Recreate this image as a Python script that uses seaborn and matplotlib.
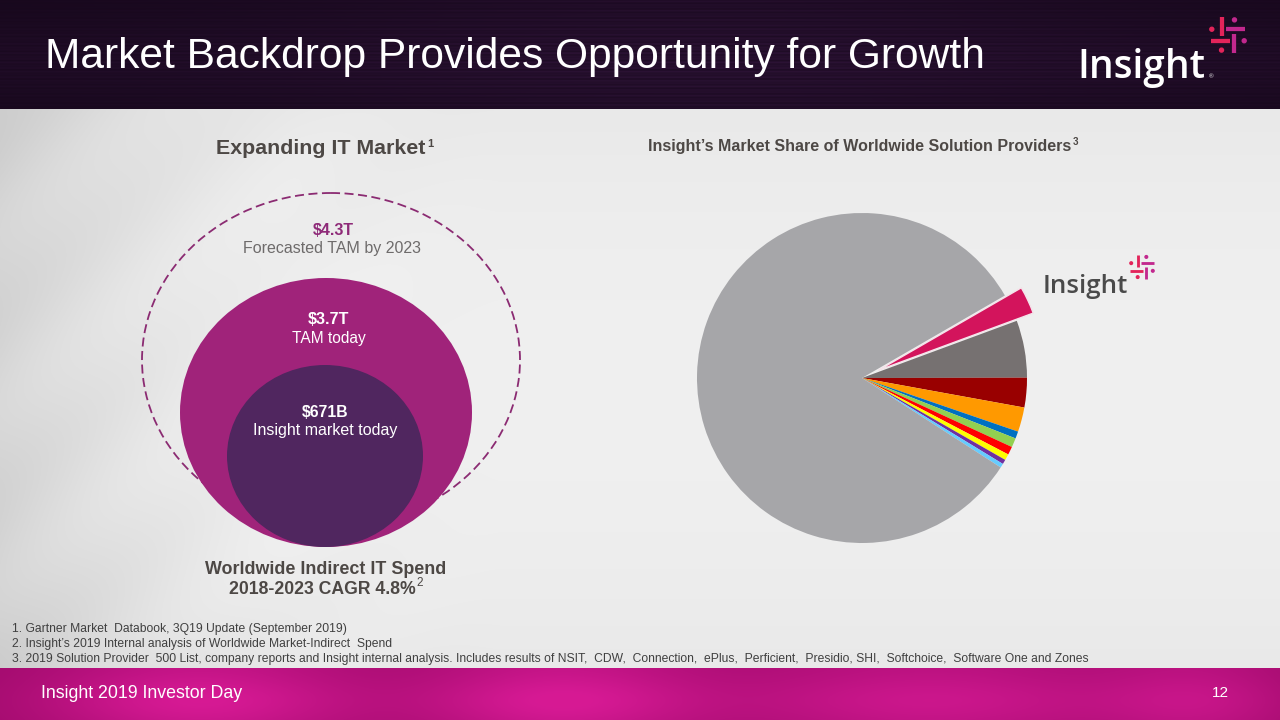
import numpy as np
import matplotlib
matplotlib.use("Agg")
import matplotlib.pyplot as plt
from matplotlib.patches import Ellipse, Circle
import seaborn as sns

# ---------------- data ----------------
title = "Market Backdrop Provides Opportunity for Growth"
left_title = "Expanding IT Market"
right_title = "Insight\u2019s Market Share of Worldwide Solution Providers"
market_values = ["$4.3T", "$3.7T", "$671B"]
market_captions = ["Forecasted TAM by 2023", "TAM today", "Insight market today"]
spend_lines = ["Worldwide Indirect IT Spend", "2018-2023 CAGR 4.8%"]

providers = ["Insight (NSIT)", "CDW", "SHI", "Software One", "Presidio",
             "Connection", "Zones", "ePlus", "Softchoice", "Perficient",
             "Other solution providers"]
share_pct = [2.7, 5.6, 2.9, 2.4, 0.7, 0.9, 0.8, 0.6, 0.45, 0.4, 82.55]
slice_colors = ["#D3145C", "#767171", "#990000", "#FF9900", "#0070C0",
                "#92D050", "#FF0000", "#FFFF00", "#7030A0", "#66CCFF",
                "#A6A6A9"]

footnotes = [
    "1. Gartner Market  Databook, 3Q19 Update (September 2019)",
    "2. Insight\u2019s 2019 Internal analysis of Worldwide Market-Indirect  Spend",
    "3. 2019 Solution Provider  500 List, company reports and Insight internal analysis. Includes results of NSIT,  CDW,  Connection,  ePlus,  Perficient,  Presidio, SHI,  Softchoice,  Software One and Zones",
]
footer_text = "Insight 2019 Investor Day"
page_no = "12"

# ---------------- setup ----------------
sns.set_theme(style="white")
plt.rcParams["font.family"] = ["Liberation Sans", "DejaVu Sans"]

W, H = 1280, 720
fig = plt.figure(figsize=(12.8, 7.2), dpi=100)
ax = fig.add_axes([0, 0, 1, 1])
ax.set_xlim(0, W)
ax.set_ylim(H, 0)
ax.axis("off")

# ---------------- background ----------------
HEAD, FOOT = 109, 668
yy, xx = np.mgrid[0:H, 0:W].astype(float)
img = np.zeros((H, W, 3))
b = 0.94 - 0.10 * np.clip((300 - xx) / 300, 0, 1) ** 1.5 - 0.03 * ((yy - 390) / 300) ** 2
b += 0.012 * np.sin((xx * 0.8 + yy) * 0.035) * np.clip((500 - xx) / 500, 0, 1)
img[:] = np.stack([b, b, b], axis=-1)
hy = yy[:HEAD]
hx = xx[:HEAD]
streak = 0.5 + 0.5 * np.sin(hy * 1.7) * np.sin(hy * 0.37 + 1.0)
glow = np.exp(-((hx - 700) / 450) ** 2) * 0.6 + np.exp(-((hy - 60) / 40) ** 2) * 0.4
base = np.array([0.09, 0.03, 0.11])
purple = np.array([0.30, 0.14, 0.36])
hdr = base + (purple - base) * (0.25 * glow * streak)[..., None] + (purple - base) * (0.15 * glow)[..., None]
img[:HEAD] = hdr
fy = yy[FOOT:]
fx = xx[FOOT:]
spots = (np.exp(-((fx - 200) / 160) ** 2) + np.exp(-((fx - 560) / 140) ** 2)
         + 0.8 * np.exp(-((fx - 930) / 200) ** 2) + 0.6 * np.exp(-((fx - 1200) / 100) ** 2))
spots = spots * (0.6 + 0.4 * np.exp(-((fy - 700) / 25) ** 2))
dark = np.array([0.62, 0.04, 0.42])
bright = np.array([0.84, 0.10, 0.58])
img[FOOT:] = dark + (bright - dark) * np.clip(spots, 0, 1)[..., None]
ax.imshow(np.clip(img, 0, 1), extent=(0, W, H, 0), aspect="auto", zorder=0)


def fit_text(x, y, s, width, size0, **kw):
    t = ax.text(x, y, s, fontsize=size0, **kw)
    r = fig.canvas.get_renderer()
    w = t.get_window_extent(r).width
    t.set_fontsize(size0 * width / w)
    return t


def sup(t, s, dy=-7, size=8, **kw):
    r = fig.canvas.get_renderer()
    bb = t.get_window_extent(r)
    x1 = bb.x1 + 1.5
    yb = t.get_position()[1]
    ax.text(x1, yb + dy, s, fontsize=size, va="baseline", ha="left", **kw)


# ---------------- header ----------------
fit_text(45, 68, title, 940, 32, color="white", va="baseline", ha="left")


def logo(x0, base, width, color, icon_cx, icon_cy, s, size0):
    fit_text(x0, base, "Insight", width, size0, color=color, va="baseline",
             ha="left", weight="semibold", family=["Open Sans", "DejaVu Sans"])
    red, pink = "#E3245A", "#C2288E"
    lw = s * 0.085
    kw = dict(lw=lw, solid_capstyle="butt", zorder=5)
    ax.plot([icon_cx - 0.18 * s] * 2, [icon_cy - 0.5 * s, icon_cy + 0.02 * s], color=red, **kw)
    ax.plot([icon_cx - 0.05 * s, icon_cx + 0.48 * s], [icon_cy - 0.16 * s] * 2, color=pink, **kw)
    ax.plot([icon_cx - 0.48 * s, icon_cx + 0.05 * s], [icon_cy + 0.16 * s] * 2, color=red, **kw)
    ax.plot([icon_cx + 0.18 * s] * 2, [icon_cy - 0.02 * s, icon_cy + 0.5 * s], color=pink, **kw)
    for (dx, dy, c) in [(-0.45, -0.16, red), (0.45, 0.16, pink), (-0.18, 0.42, red), (0.18, -0.42, pink)]:
        ax.add_patch(Circle((icon_cx + dx * s, icon_cy + dy * s), 0.055 * s, color=c, zorder=5))


logo(1077, 78, 128, "white", 1228, 35, 36, 34)
ax.text(1209, 78, "\u00ae", color="white", fontsize=4.5, va="baseline")

# ---------------- left: nested circles ----------------
ax.add_patch(Ellipse((331, 360), 378, 334, fill=False, ec="#8B2B72", lw=1.3,
                     ls=(0, (5, 2.5)), zorder=2))
ax.add_patch(Ellipse((326, 412.5), 292, 269, fc="#A0237A", ec="none", zorder=3))
ax.add_patch(Ellipse((325, 456), 196, 182, fc="#50265F", ec="none", zorder=4))

t = fit_text(321, 154, left_title, 210, 14, color="#4D4845", weight="bold",
             ha="center", va="baseline")
sup(t, "1", dy=-7, size=8, color="#4D4845", weight="bold")

fit_text(333.5, 235, market_values[0], 41, 11, color="#8E2A78", weight="bold", ha="center", va="baseline", zorder=6)
fit_text(332, 253, market_captions[0], 178, 11, color="#6E6B6B", ha="center", va="baseline", zorder=6)
fit_text(328.5, 324, market_values[1], 41, 11, color="white", weight="bold", ha="center", va="baseline", zorder=6)
fit_text(329, 343, market_captions[1], 74, 11, color="white", ha="center", va="baseline", zorder=6)
fit_text(325, 417, market_values[2], 46, 11, color="white", weight="bold", ha="center", va="baseline", zorder=6)
fit_text(325, 435, market_captions[2], 144, 11, color="white", ha="center", va="baseline", zorder=6)

fit_text(326, 574, spend_lines[0], 240, 13, color="#4D4845", weight="bold", ha="center", va="baseline")
t = fit_text(322, 594, spend_lines[1], 186, 13, color="#4D4845", weight="bold", ha="center", va="baseline")
sup(t, "2", dy=-8, size=8.5, color="#4D4845")

# ---------------- right: pie ----------------
t = fit_text(648, 151, right_title, 423, 11, color="#4D4845", weight="bold", ha="left", va="baseline")
sup(t, "3", dy=-6, size=7, color="#4D4845", weight="bold")

R = 165
half = 1.25 * R
cx, cy = 862, 378
pax = fig.add_axes([(cx - half) / W, (H - cy - half) / H, 2 * half / W, 2 * half / H])
pax.set_facecolor("none")
explode = [0.11] + [0] * (len(share_pct) - 1)
wedges, _ = pax.pie(share_pct, colors=slice_colors, startangle=30, counterclock=False,
                    explode=explode, labels=None,
                    wedgeprops=dict(linewidth=0, edgecolor="none"))
wedges[0].set_edgecolor("#F4E4EA")
wedges[0].set_linewidth(1.0)
pax.set_xlim(-1.25, 1.25)
pax.set_ylim(-1.25, 1.25)
pax.set_aspect("equal")
pax.axis("off")

logo(1043, 293, 85, "#4A4A4A", 1142, 267, 24, 20)

# ---------------- footnotes & footer ----------------
fy0 = [632, 647, 662]
t3 = fit_text(12, fy0[2], footnotes[2], 1080, 9, color="#404040", ha="left", va="baseline")
fs = t3.get_fontsize()
for s, yb in zip(footnotes[:2], fy0[:2]):
    ax.text(12, yb, s, fontsize=fs, color="#404040", ha="left", va="baseline")

fit_text(41, 698, footer_text, 201, 13, color="white", ha="left", va="baseline")
fit_text(1212, 697, page_no, 17, 13, color="white", ha="left", va="baseline")

fig.savefig("out.png", dpi=100)
